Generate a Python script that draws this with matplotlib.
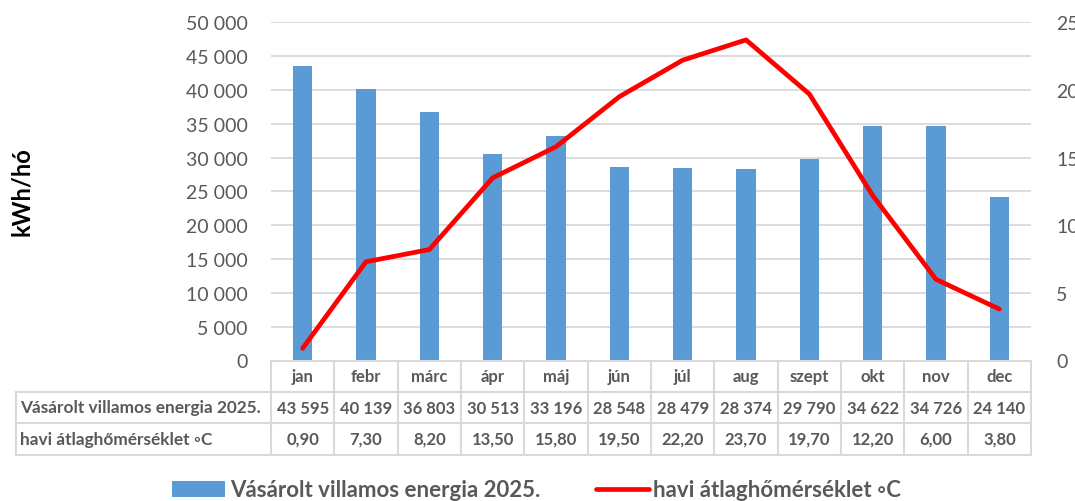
import matplotlib.pyplot as plt
from matplotlib.lines import Line2D
from matplotlib.ticker import FuncFormatter, MultipleLocator
from matplotlib.transforms import blended_transform_factory

plt.rcParams['font.family'] = ['Lato', 'DejaVu Sans']

# data
months = ['jan', 'febr', 'márc', 'ápr', 'máj', 'jún', 'júl', 'aug', 'szept', 'okt', 'nov', 'dec']
energy = [43595, 40139, 36803, 30513, 33196, 28548, 28479, 28374, 29790, 34622, 34726, 24140]
temp = [0.90, 7.30, 8.20, 13.50, 15.80, 19.50, 22.20, 23.70, 19.70, 12.20, 6.00, 3.80]
energy_label = 'Vásárolt villamos energia 2025.'
temp_label = 'havi átlaghőmérséklet ◦C'

W, H = 1075, 502
def fx(p):
    return p / W
def fy(p):
    return 1 - p / H

grey = '#595959'
grid_c = '#D9D9D9'
blue = '#5B9BD5'

fig = plt.figure(figsize=(W / 100, H / 100), dpi=100)
ax = fig.add_axes([fx(271), fy(361.5), fx(1031) - fx(271), fy(23.3) - fy(361.5)])

x = list(range(len(months)))
bars = ax.bar(x, energy, width=0.31, color=blue, zorder=2)
ax.set_xlim(-0.5, len(months) - 0.5)
ax.set_ylim(0, 50000)
ax.yaxis.set_major_locator(MultipleLocator(5000))
ax.yaxis.set_major_formatter(FuncFormatter(lambda v, p: f'{int(v):,}'.replace(',', ' ')))
ax.grid(axis='y', color=grid_c, linewidth=1.3, zorder=0)
ax.set_xticks([])
for s in ax.spines.values():
    s.set_visible(False)
ax.tick_params(axis='y', length=0, pad=17, labelsize=14, labelcolor=grey)

ax2 = ax.twinx()
line, = ax2.plot(x, temp, color='#FF0000', linewidth=3.4, solid_capstyle='round', zorder=3)
ax2.set_ylim(0, 25)
ax2.yaxis.set_major_locator(MultipleLocator(5))
for s in ax2.spines.values():
    s.set_visible(False)
ax2.tick_params(axis='y', length=0, pad=18, labelsize=14, labelcolor=grey)

# y axis title
fig.text(fx(22), fy(192), 'kWh/hó', rotation=90, ha='center', va='center',
         fontsize=17, fontweight='bold', color='black')

# data table
tr = blended_transform_factory(ax.transData, fig.transFigure)
rows_y = [362, 393, 424, 456]
lw = 1.5
fig.add_artist(Line2D([-0.5, 11.5], [fy(rows_y[0])] * 2, transform=tr, color=grid_c, lw=lw))
for yy in rows_y[1:]:
    fig.add_artist(Line2D([fx(16), fx(1031)], [fy(yy)] * 2, transform=fig.transFigure, color=grid_c, lw=lw))
for i in range(len(months) + 1):
    fig.add_artist(Line2D([i - 0.5] * 2, [fy(rows_y[0]), fy(rows_y[3])], transform=tr, color=grid_c, lw=lw))
fig.add_artist(Line2D([fx(16)] * 2, [fy(rows_y[1]), fy(rows_y[3])], transform=fig.transFigure, color=grid_c, lw=lw))

def mid(a, b):
    return fy((rows_y[a] + rows_y[b]) / 2)

fs = 12
for i, m in enumerate(months):
    fig.text(i, mid(0, 1), m, transform=tr, ha='center', va='center', fontsize=fs, fontweight='bold', color=grey)
    fig.text(i, mid(1, 2), f'{energy[i]:,}'.replace(',', ' '), transform=tr, ha='center', va='center',
             fontsize=fs, fontweight='bold', color=grey)
    fig.text(i, mid(2, 3), f'{temp[i]:.2f}'.replace('.', ','), transform=tr, ha='center', va='center',
             fontsize=fs, fontweight='bold', color=grey)
fig.text(fx(20), mid(1, 2), energy_label, ha='left', va='center', fontsize=12.4, fontweight='bold', color=grey)
fig.text(fx(20), mid(2, 3), temp_label, ha='left', va='center', fontsize=12.4, fontweight='bold', color=grey)

# legend
fig.legend([bars, line], [energy_label, temp_label], loc='center left', bbox_to_anchor=(fx(172), fy(491)),
           ncol=2, frameon=False, labelcolor=grey, prop={'weight': 'bold', 'size': 16},
           handlelength=2.4, handleheight=0.7, handletextpad=0.2, columnspacing=2.5,
           borderpad=0, borderaxespad=0)

fig.savefig('out.png', dpi=100)
